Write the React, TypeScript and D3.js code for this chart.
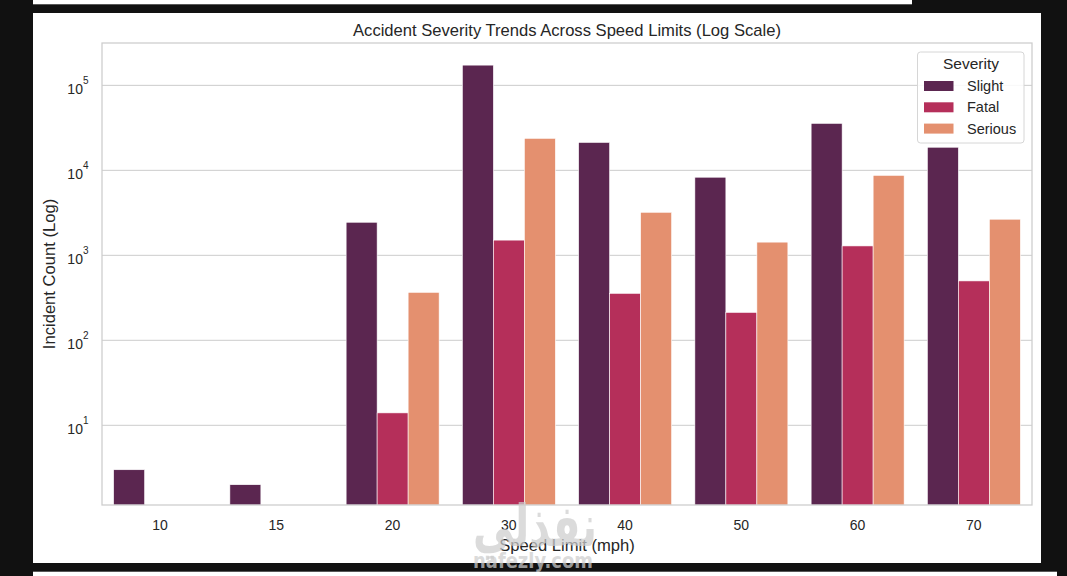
import { useEffect } from 'react';
import * as d3 from 'd3';

const speedLimits = ["10", "15", "20", "30", "40", "50", "60", "70"];
const severities = ["Slight", "Fatal", "Serious"];
const slightCounts = [3, 2, 2450, 173000, 21300, 8300, 35700, 18700];
const fatalCounts = [0, 0, 14, 1510, 357, 213, 1290, 500];
const seriousCounts = [0, 0, 367, 23800, 3210, 1430, 8730, 2660];
const yTickPowers = [1, 2, 3, 4, 5];
const palette = ["#5b2650", "#b52f5a", "#e4906f"];

const font = '"Liberation Sans", Arial, "DejaVu Sans", sans-serif';
const ink = "#262626";

const W = 1067;
const H = 576;
const plot = { left: 102, right: 1032, top: 43, bottom: 505 };

export default function App() {
  useEffect(() => {
    document.body.style.margin = "0";
    document.body.style.background = "#111111";
  }, []);

  const seriesBySeverity = [slightCounts, fatalCounts, seriousCounts];

  const x = d3.scaleBand<string>()
    .domain(speedLimits)
    .range([plot.left, plot.right])
    .padding(0);

  const hue = d3.scaleBand<string>()
    .domain(severities)
    .range([x.bandwidth() * 0.1, x.bandwidth() * 0.9])
    .padding(0);

  const y = d3.scaleLog()
    .domain([1.154, 315000])
    .range([plot.bottom, plot.top]);

  const bars = severities.flatMap((sev, si) =>
    speedLimits.map((cat, ci) => ({ sev, si, cat, value: seriesBySeverity[si][ci] }))
  ).filter(d => d.value > 0);

  return (
    <div style={{ position: "absolute", left: 0, top: 0, width: W, height: H, background: "#111111" }}>
      <svg width={W} height={H} style={{ display: "block" }} fontFamily={font}>
        <rect x={0} y={0} width={W} height={H} fill="#111111" />
        <rect x={33} y={0} width={879} height={4.3} fill="#ffffff" />
        <rect x={33} y={13} width={1008} height={550} fill="#ffffff" />
        <rect x={33} y={571.7} width={1024} height={5} fill="#ffffff" />

        {/* grid */}
        {yTickPowers.map(p => (
          <line key={"g" + p} x1={plot.left} x2={plot.right} y1={y(10 ** p)} y2={y(10 ** p)}
            stroke="#cccccc" strokeWidth={1} />
        ))}

        {/* bars */}
        {bars.map(d => (
          <rect key={d.sev + d.cat}
            x={(x(d.cat) ?? 0) + (hue(d.sev) ?? 0)}
            y={y(d.value)}
            width={hue.bandwidth()}
            height={plot.bottom - y(d.value)}
            fill={palette[d.si]}
            stroke="#ffffff" strokeWidth={0.6} />
        ))}

        {/* spines */}
        <rect x={plot.left} y={plot.top} width={plot.right - plot.left} height={plot.bottom - plot.top}
          fill="none" stroke="#cccccc" strokeWidth={1.25} />

        {/* y ticks */}
        {yTickPowers.map(p => (
          <text key={"t" + p} x={88.5} y={y(10 ** p) + 8.5} textAnchor="end" fontSize={14} fill={ink}>
            10<tspan dy={-9.5} fontSize={10}>{p}</tspan>
          </text>
        ))}

        {/* x ticks */}
        {speedLimits.map(c => (
          <text key={"x" + c} x={(x(c) ?? 0) + x.bandwidth() / 2} y={530} textAnchor="middle"
            fontSize={14} fill={ink}>{c}</text>
        ))}

        <text x={(plot.left + plot.right) / 2} y={550.5} textAnchor="middle" fontSize={16.6} fill={ink}>
          Speed Limit (mph)
        </text>
        <text transform={`translate(55,${(plot.top + plot.bottom) / 2}) rotate(-90)`} textAnchor="middle"
          fontSize={16.6} fill={ink}>Incident Count (Log)</text>
        <text x={(plot.left + plot.right) / 2} y={35.5} textAnchor="middle" fontSize={16.6} fill={ink}>
          Accident Severity Trends Across Speed Limits (Log Scale)
        </text>

        {/* legend */}
        <g>
          <rect x={917.5} y={52} width={106.5} height={91} rx={3} fill="#ffffff" fillOpacity={0.85}
            stroke="#d6d6d6" strokeWidth={1} />
          <text x={971} y={68.5} textAnchor="middle" fontSize={15.5} fill={ink}>Severity</text>
          {severities.map((s, i) => (
            <g key={"l" + s} transform={`translate(0,${i * 21.3})`}>
              <rect x={924} y={81} width={29.5} height={10} fill={palette[i]} />
              <text x={967} y={91} fontSize={14.5} fill={ink}>{s}</text>
            </g>
          ))}
        </g>

        {/* watermark */}
        <g fill="rgb(205,205,205)" fillOpacity={0.72} fontFamily='"DejaVu Sans", sans-serif' fontWeight="bold">
          <text x={473} y={546} fontSize={58} textLength={124} lengthAdjust="spacingAndGlyphs">نفذلي</text>
          <text x={473} y={568} fontSize={21} textLength={120} lengthAdjust="spacingAndGlyphs">nafezly.com</text>
        </g>
      </svg>
    </div>
  );
}
